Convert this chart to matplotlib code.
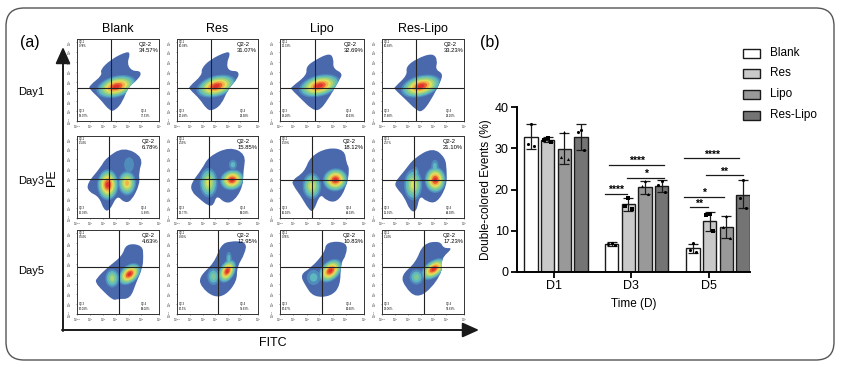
import matplotlib
matplotlib.use("Agg")
import matplotlib.pyplot as plt
from matplotlib.patches import Ellipse, FancyBboxPatch, PathPatch, Rectangle
from matplotlib.path import Path

plt.rcParams['font.family'] = ['Liberation Sans', 'DejaVu Sans']

# ---- flow cytometry panels
groups = ['Blank', 'Res', 'Lipo', 'Res-Lipo']
days = ['Day1', 'Day3', 'Day5']
q22 = [['34.57%', '31.07%', '32.69%', '33.23%'],
       ['6.78%', '15.85%', '18.12%', '21.10%'],
       ['4.63%', '12.95%', '10.83%', '17.23%']]
q21 = [['9.78%', '10.08%', '11.33%', '10.68%'],
       ['1.54%', '2.59%', '1.59%', '2.57%'],
       ['0.54%', '0.90%', '0.76%', '1.14%']]
q23 = [['18.07%', '20.49%', '19.28%', '17.68%'],
       ['15.93%', '13.77%', '16.10%', '11.91%'],
       ['26.03%', '26.5%', '26.67%', '28.06%']]
q24 = [['37.53%', '38.38%', '36.63%', '38.10%'],
       ['75.69%', '68.09%', '64.19%', '64.93%'],
       ['68.02%', '59.63%', '62.60%', '54.69%']]

# panel edges in pixels
col_left = [77, 177, 280, 382]
col_right = [159, 258, 364, 464]
row_top = [39, 136, 230]
row_bottom = [121, 218, 314]

# crosshair position of each panel, percent of the axis
cross_x = [[42, 42.5, 41.7, 41.5], [39.5, 39, 38.5, 39], [51, 51, 50.5, 51]]
cross_y = [[40, 40.5, 40, 40], [47.5, 47.5, 46.5, 46.5], [56, 56, 55.5, 56]]

# outlines of the density clouds
outline = [
    [[(15,43),(31,56),(28,62),(41,75),(61,85),(65,82),(61,70),(67,61),(78,61),(77,53),(62,41),(56,24),(47,13),(40,12),(28,27),(15,39)],
     [(15,42),(31,56),(30,64),(41,75),(62,85),(66,82),(61,70),(64,61),(76,61),(76,53),(63,39),(55,20),(43,12),(36,15),(28,27),(15,39)],
     [(13,41),(32,56),(31,66),(41,74),(59,83),(64,76),(63,64),(75,58),(70,49),(56,24),(46,12),(37,15),(26,26),(13,39)],
     [(15,41),(31,56),(29,66),(42,76),(62,83),(68,74),(65,63),(74,58),(72,49),(59,24),(49,11),(42,13),(29,26),(15,39)]],
    [[(12,42),(29,62),(35,73),(57,87),(81,74),(75,55),(77,42),(66,20),(57,19),(49,28),(40,9),(33,9),(27,26),(14,32)],
     [(17,42),(31,60),(39,75),(65,87),(85,78),(82,57),(81,37),(70,20),(59,18),(49,28),(45,15),(38,15),(27,24),(18,32)],
     [(14,46),(29,56),(36,75),(57,86),(77,83),(79,67),(83,60),(79,37),(68,19),(55,21),(48,30),(40,8),(35,9),(24,28),(16,39)],
     [(15,43),(27,57),(39,73),(62,86),(77,74),(79,59),(79,39),(67,18),(54,20),(46,28),(42,7),(34,9),(27,26),(18,36)]],
    [[(23,42),(39,57),(55,69),(60,84),(80,82),(81,68),(80,55),(72,37),(65,18),(50,18),(44,16),(29,30),(23,37)],
     [(27,44),(46,61),(54,82),(65,87),(86,86),(84,72),(74,56),(74,39),(60,22),(45,20),(30,32)],
     [(24,47),(37,55),(53,73),(55,86),(80,86),(79,70),(72,60),(72,34),(61,21),(40,20),(30,34)],
     [(23,46),(41,61),(50,84),(71,87),(75,78),(87,79),(72,66),(74,51),(59,29),(42,19),(28,32)]],
]

# hot spots: x, y, width, height, angle, how many colour levels it reaches
peaks = [
    [[(48,42,50,26,15,8)],
     [(48.5,42.5,50,26,15,8)],
     [(47,43,50,26,15,8)],
     [(47.5,42.5,50,26,15,8)]],
    [[(37.6,40.5,26,38,0,8),(61,42.5,22,30,0,6),(63.5,65,12,18,0,1)],
     [(39,43,22,36,0,5),(68,46.5,30,25,15,8),(69,65,10,12,0,2)],
     [(38,39,22,32,0,5),(66,46.5,30,28,15,8)],
     [(38,40.5,22,38,0,5),(65,46.5,26,32,0,8),(64.5,63,9,16,0,2),(41,55,8,15,0,2)]],
    [[(43,42.5,17,22,0,4),(64,47.5,32,21,40,8)],
     [(45,44.5,15,20,0,3),(62,51,30,19,60,8),(64,66,7,16,0,2)],
     [(40,43.5,16,18,0,2),(60,51.5,33,22,45,8)],
     [(42,44,17,18,0,3),(63,53.5,35,20,35,8)]],
]
level_colors = ['#4a69ad', '#4f8cbc', '#5fb7c0', '#7cc79a', '#aad577', '#dfe05c', '#f3b14a', '#e8602f', '#df2f2f']
x_tick_pos = [0, 16, 32, 47, 63, 78, 100]
y_tick_pos = [0, 12, 24, 36, 48, 60, 72, 84, 96]
x_tick_lab = [r'$10^{-1}$', r'$10^{1}$', r'$10^{2}$', r'$10^{3}$', r'$10^{4}$', r'$10^{5}$', r'$10^{7}$']
y_tick_lab = [r'$10^{-1}$', r'$10^{0}$', r'$10^{1}$', r'$10^{2}$', r'$10^{3}$', r'$10^{4}$', r'$10^{5}$', r'$10^{6}$', r'$10^{7}$']

# ---- bar chart
bar_names = ['Blank', 'Res', 'Lipo', 'Res-Lipo']
bar_colors = ['white', '#c9c9c9', '#999999', '#747474']
time_labels = ['D1', 'D3', 'D5']
bar_means = [[32.7, 32.0, 29.9, 32.7], [6.8, 16.4, 20.5, 20.8], [5.7, 12.3, 10.9, 18.7]]
bar_low = [[29.7, 31.4, 26.2, 29.5], [6.4, 14.9, 18.8, 19.4], [4.6, 10.0, 8.2, 15.4]]
bar_high = [[36.0, 32.7, 33.8, 35.9], [7.2, 18.0, 22.0, 22.2], [6.9, 14.6, 13.6, 22.3]]
bar_points = [
    [[36, 31, 30.5], [32.5, 32, 31.5], [34, 28, 27.5], [34.5, 34, 29.5]],
    [[7, 6.9, 6.5], [18, 16, 15.2], [22, 20.8, 19], [22, 21, 19.5]],
    [[7, 5.4, 4.9], [14, 13.7, 10], [13.5, 11, 8.2], [22.2, 18, 15.5]],
]
group_start = [0.84, 5.67, 10.54]
tick_pos = [2.2, 6.83, 11.5]
# significance: x start, x end, y, label
sig_bars = [(5.53, 8.82, 25.96, '****'), (6.61, 8.82, 22.8, '*'), (5.29, 6.57, 19.0, '****'),
            (10.02, 13.29, 27.6, '****'), (11.30, 13.51, 23.4, '**'),
            (10.02, 12.41, 18.25, '*'), (10.36, 11.46, 15.66, '**')]


def smooth_path(pts):
    # quadratic curves through edge midpoints so the clouds have no corners
    mids = [((pts[n][0] + pts[(n + 1) % len(pts)][0]) / 2, (pts[n][1] + pts[(n + 1) % len(pts)][1]) / 2)
            for n in range(len(pts))]
    verts = [mids[-1]]
    codes = [Path.MOVETO]
    for n in range(len(pts)):
        verts += [pts[n], mids[n]]
        codes += [Path.CURVE3, Path.CURVE3]
    return Path(verts, codes)


W, H = 847, 373
fig = plt.figure(figsize=(W / 100, H / 100), dpi=100)

bg = fig.add_axes([0, 0, 1, 1])
bg.set_xlim(0, W)
bg.set_ylim(H, 0)
bg.axis('off')
bg.add_patch(FancyBboxPatch((6, 8), 828, 352, boxstyle='round,pad=0,rounding_size=18',
                            fc='white', ec='#555555', lw=1))
arrow = dict(arrowstyle='-|>,head_width=0.45,head_length=1.0', color='#1a1a1a', lw=1.4, shrinkA=0, shrinkB=0)
bg.annotate('', xy=(63, 47), xytext=(63, 331), arrowprops=arrow)
bg.annotate('', xy=(479, 330), xytext=(62, 330), arrowprops=arrow)
bg.text(30, 42, '(a)', fontsize=11.5, ha='center', va='center')
bg.text(490, 42, '(b)', fontsize=11.5, ha='center', va='center')
bg.text(52, 178, 'PE', fontsize=9, rotation=90, ha='center', va='center')
bg.text(273, 343, 'FITC', fontsize=9, ha='center', va='center')
for name, l, r in zip(groups, col_left, col_right):
    bg.text((l + r) / 2, 29, name, fontsize=9, ha='center', va='center')
for name, y in zip(days, [92, 181, 271]):
    bg.text(31, y, name, fontsize=8, ha='center', va='center')

for i in range(3):
    for j in range(4):
        ax = fig.add_axes([col_left[j] / W, 1 - row_bottom[i] / H,
                           (col_right[j] - col_left[j]) / W, (row_bottom[i] - row_top[i]) / H])
        ax.set_xlim(0, 100)
        ax.set_ylim(0, 100)
        cloud = PathPatch(smooth_path(outline[i][j]), fc=level_colors[0], ec='none')
        ax.add_patch(cloud)
        for lev in range(1, len(level_colors)):
            for px, py, pw, ph, ang, top in peaks[i][j]:
                if lev > top:
                    continue
                k = ((top - lev + 1) / top) ** 0.85
                e = Ellipse((px, py), pw * k, ph * k, angle=ang, fc=level_colors[lev], ec='none')
                ax.add_patch(e)
                e.set_clip_path(cloud)
        ax.axvline(cross_x[i][j], color='#222222', lw=0.8)
        ax.axhline(cross_y[i][j], color='#222222', lw=0.8)
        ax.text(99, 90, 'Q2-2\n' + q22[i][j], fontsize=4.2, va='center', ha='right', multialignment='left', linespacing=1.25)
        ax.text(2, 94, 'Q2-1\n' + q21[i][j], fontsize=2, va='center', ha='left')
        ax.text(2, 9, 'Q2-3\n' + q23[i][j], fontsize=2, va='center', ha='left')
        ax.text(78, 9, 'Q2-4\n' + q24[i][j], fontsize=2, va='center', ha='left')
        ax.set_xticks(x_tick_pos)
        ax.set_xticklabels(x_tick_lab)
        ax.set_yticks(y_tick_pos)
        ax.set_yticklabels(y_tick_lab, rotation=90, va='center')
        ax.tick_params(length=1, width=0.4, labelsize=2, pad=1, color='#333333', labelcolor='#333333')
        for s in ax.spines.values():
            s.set_linewidth(0.7)
            s.set_color('#333333')

# ---- (b)
bx = fig.add_axes([517 / W, 1 - 272 / H, 233 / W, 165 / H])
bx.patch.set_alpha(0)
markers = ['o', 's', '^', 'o']
for g in range(3):
    for b in range(4):
        x = group_start[g] + b
        m = bar_means[g][b]
        bx.bar(x, m, width=0.8, color=bar_colors[b], edgecolor='#1a1a1a', linewidth=1.0)
        bx.errorbar(x, m, yerr=[[m - bar_low[g][b]], [bar_high[g][b] - m]], color='#1a1a1a',
                    capsize=3.5, elinewidth=0.9, capthick=0.9)
        bx.scatter([x, x - 0.2, x + 0.2], bar_points[g][b], s=5, color='black', marker=markers[b], zorder=3, linewidths=0)
for x0, x1, y, star in sig_bars:
    bx.plot([x0, x1], [y, y], color='#1a1a1a', lw=0.9)
    bx.text((x0 + x1) / 2, y - 0.3, star, ha='center', va='bottom', fontsize=7.5, fontweight='bold')
bx.set_xlim(0, 13.95)
bx.set_ylim(0, 40)
bx.set_yticks([0, 10, 20, 30, 40])
bx.set_xticks(tick_pos)
bx.set_xticklabels(time_labels)
bx.tick_params(axis='both', labelsize=9, width=1.3, length=4, pad=2)
bx.set_ylabel('Double-colored Events (%)', fontsize=8.5, labelpad=2)
bx.set_xlabel('Time (D)', fontsize=8.5, labelpad=4)
bx.spines['top'].set_visible(False)
bx.spines['right'].set_visible(False)
bx.spines['left'].set_linewidth(1.4)
bx.spines['bottom'].set_linewidth(1.4)

for name, color, y in zip(bar_names, bar_colors, [53, 73, 94, 115]):
    bg.add_patch(Rectangle((743, y - 4.5), 17, 9, fc=color, ec='#1a1a1a', lw=1))
    bg.text(770, y, name, fontsize=8.5, va='center', ha='left')

fig.savefig('out.png', dpi=100)
